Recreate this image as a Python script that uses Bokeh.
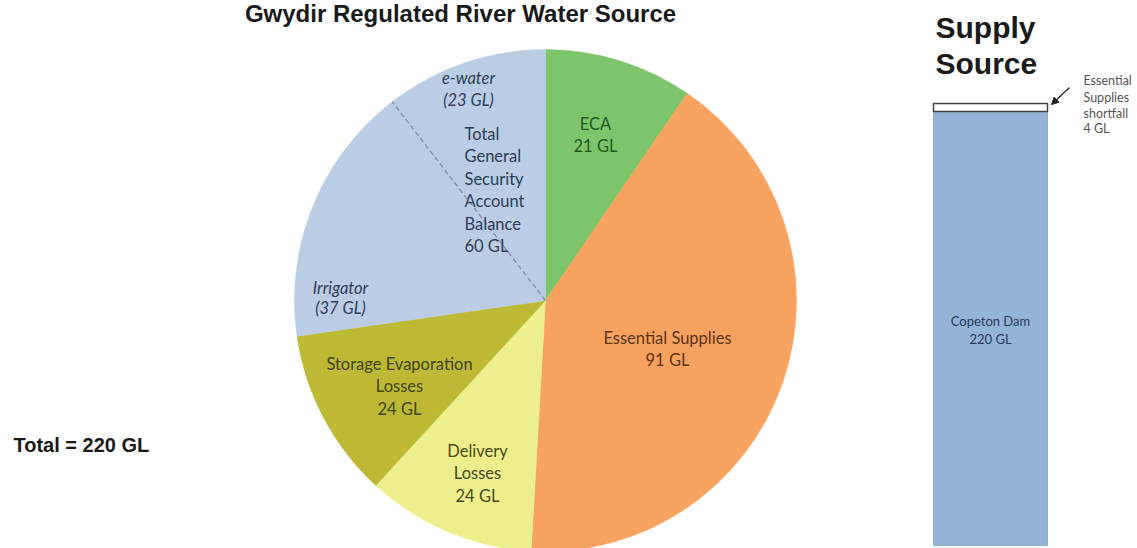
import math
from bokeh.plotting import figure
from bokeh.models import Range1d, Arrow, NormalHead
from bokeh.core.properties import value
from bokeh.embed import file_html
from bokeh.resources import INLINE

# ---------------- data ----------------
categories = ["ECA", "Essential Supplies", "Delivery Losses",
              "Storage Evaporation Losses", "Total General Security Account Balance"]
volumes_gl = [21, 91, 24, 24, 60]
gs_split_names = ["e-water", "Irrigator"]
gs_split_gl = [23, 37]
supply_source = ["Copeton Dam"]
supply_gl = [220]
shortfall_gl = [4]
total_gl = sum(volumes_gl)

# ---------------- styles ----------------
slice_colors = ["#7DC56B", "#F7A25E", "#EDEF8C", "#BDB935", "#B9CDE4"]
label_colors = ["#1F5A1C", "#5A3414", "#4A4A18", "#44420E", "#2E3D55"]
FONT = "Lato"
HEAD = "Liberation Sans"

W, H = 1137, 548
p = figure(width=W, height=H, output_backend="svg", toolbar_location=None,
           x_range=Range1d(0, W), y_range=Range1d(-H, 0),
           min_border=0, outline_line_color=None, background_fill_color="white")
p.axis.visible = False
p.grid.visible = False

# ---------------- pie ----------------
cx, cy, R = 545, -300, 251
cum = 0
starts, ends = [], []
for v in volumes_gl:
    starts.append(math.pi / 2 - 2 * math.pi * cum / total_gl)
    cum += v
    ends.append(math.pi / 2 - 2 * math.pi * cum / total_gl)
p.wedge(x=cx, y=cy, radius=R, start_angle=starts, end_angle=ends,
        direction="clock", fill_color=slice_colors, line_color=slice_colors, line_width=0.5)

# dashed split inside general security slice (e-water | irrigator)
a = math.pi / 2 + 2 * math.pi * gs_split_gl[0] / total_gl
p.segment(x0=[cx], y0=[cy], x1=[cx + R * math.cos(a)], y1=[cy + R * math.sin(a)],
          line_color="#7F8EA6", line_width=1.3, line_dash="5 3")


def put(lines, x, y_top, color, size="16.5px", step=22.5, style="normal", align="center"):
    ys = [-(y_top + i * step) for i in range(len(lines))]
    p.text(x=[x] * len(lines), y=ys, text=lines, text_font=value(FONT),
           text_font_size=size, text_color=color, text_align=align,
           text_baseline="middle", text_font_style=style)


# slice labels (annotation layout)
put(["ECA", f"{volumes_gl[0]} GL"], 595, 123, label_colors[0])
put(["Essential Supplies", f"{volumes_gl[1]} GL"], 667, 337, label_colors[1])
put(["Delivery", "Losses", f"{volumes_gl[2]} GL"], 477, 450, label_colors[2])
put(["Storage Evaporation", "Losses", f"{volumes_gl[3]} GL"], 399, 363, label_colors[3])
put(["Total", "General", "Security", "Account", "Balance", f"{volumes_gl[4]} GL"],
    464, 133, label_colors[4], align="left")
put([gs_split_names[0], f"({gs_split_gl[0]} GL)"], 468, 77, label_colors[4], style="italic")
put([gs_split_names[1], f"({gs_split_gl[1]} GL)"], 340, 287, label_colors[4], step=20, style="italic")

# titles
p.text(x=[460], y=[-13], text=["Gwydir Regulated River Water Source"], text_font=value(HEAD),
       text_font_size="24px", text_font_style="bold", text_color="#1A1A1A",
       text_align="center", text_baseline="alphabetic")
p.text(x=[935, 935], y=[-27, -63], text=["Supply", "Source"], text_font=value(HEAD),
       text_font_size="30px", text_font_style="bold", text_color="#1A1A1A",
       text_align="left", text_baseline="alphabetic")
p.text(x=[13], y=[-444], text=[f"Total = {total_gl} GL"], text_font=value(HEAD),
       text_font_size="20px", text_font_style="bold", text_color="#1A1A1A",
       text_align="left", text_baseline="alphabetic")

# ---------------- supply bar ----------------
bar_bottom_px, bar_top_px = 545, 103
k = (bar_bottom_px - bar_top_px) / (supply_gl[0] + shortfall_gl[0])
p.extra_y_ranges = {"gl": Range1d(start=(bar_bottom_px - H) / k, end=bar_bottom_px / k)}
bx, bw = 990, 114
p.vbar(x=[bx], width=bw, bottom=0, top=supply_gl, y_range_name="gl",
       fill_color="#95B3D7", line_color="#8FADD2", line_width=1)
p.vbar(x=[bx], width=bw, bottom=supply_gl, top=[supply_gl[0] + shortfall_gl[0]], y_range_name="gl",
       fill_color="white", line_color="#404040", line_width=1.5)
p.text(x=[bx, bx], y=[-320, -338], text=[supply_source[0], f"{supply_gl[0]} GL"],
       text_font=value(FONT), text_font_size="13px", text_color="#2A3A58",
       text_align="center", text_baseline="middle")

# shortfall annotation
p.add_layout(Arrow(end=NormalHead(size=7, fill_color="#222222", line_color="#222222"),
                   x_start=1069, y_start=-87, x_end=1051, y_end=-104,
                   line_color="#222222", line_width=1.2))
p.text(x=[1083] * 4, y=[-80, -97, -113, -128],
       text=["Essential", "Supplies", "shortfall", f"{shortfall_gl[0]} GL"],
       text_font=value(FONT), text_font_size="12.5px", text_color="#555555",
       text_align="left", text_baseline="middle")

open("out.html", "w").write(file_html(p, INLINE))
